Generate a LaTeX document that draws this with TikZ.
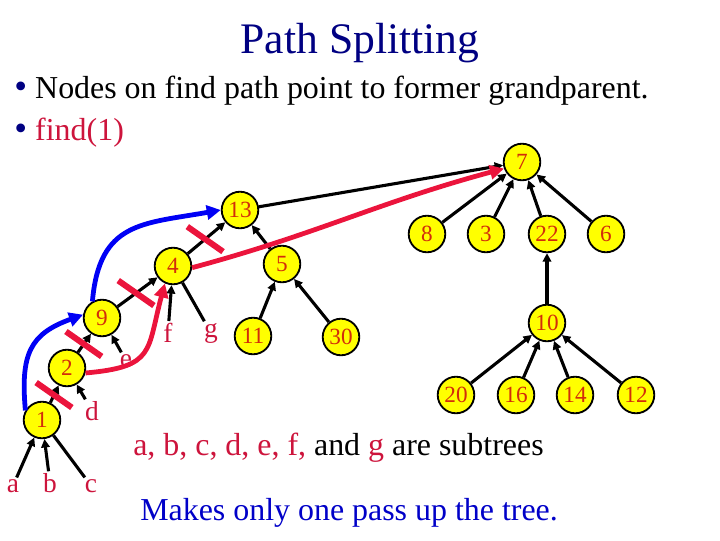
\documentclass[tikz,border=0pt]{standalone}
\usepackage{fontspec}
\setmainfont{Liberation Serif}
\usepackage{tikz}
\usetikzlibrary{arrows.meta,calc}
\usepackage{xcolor}
\definecolor{ndyellow}{RGB}{255,255,0}
\definecolor{numred}{RGB}{210,45,10}
\definecolor{subred}{RGB}{205,20,60}
\definecolor{pathred}{RGB}{235,20,60}
\definecolor{pathblue}{RGB}{0,0,245}
\definecolor{ttlnavy}{RGB}{0,0,130}
\definecolor{passblue}{RGB}{0,0,200}
\newcommand{\fsz}[1]{\fontsize{#1}{#1}\selectfont}
\newcommand{\bul}{{\color{ttlnavy}\fsz{26}•}\hspace{5.8pt}}
\tikzset{
  nd/.style={circle,draw=black,line width=1.3pt,fill=ndyellow,text=numred,
             minimum size=26pt,inner sep=0pt,font=\fsz{16.5}},
  sub/.style={anchor=base,text=subred,font=\fsz{19.5},inner sep=1pt},
  ge/.style={-{Triangle[length=6pt,width=6pt]},line width=2.2pt},
  gen/.style={line width=2.2pt},
  cut/.style={rectangle,fill=pathred,minimum width=31pt,minimum height=4.3pt,
              inner sep=0pt,rotate=-35},
  bpath/.style={-{Triangle[length=10pt,width=10pt]},line width=3.4pt,pathblue},
  rpath/.style={-{Triangle[length=10pt,width=10pt]},line width=3.4pt,pathred},
  txt/.style={anchor=base west,inner sep=0pt,font=\fsz{22.7}},
}

\begin{document}
\begin{tikzpicture}[x=0.025cm,y=-0.025cm]
    \useasboundingbox (0,0) rectangle (720,540);
    % heading and bullets
    \node[anchor=base,font=\fsz{31},text=ttlnavy] (title) at (360,53) {Path Splitting};
    \node[txt] (line1) at (14,98) {\bul Nodes on find path point to former grandparent.};
    \node[txt] (line2) at (14,140) {\bul\textcolor{subred}{find(1)}};
    % the tree
    \node[nd] (n7)  at (522,162) {7};
    \node[nd] (n13) at (240,210) {13};
    \node[nd] (n8)  at (427,234) {8};
    \node[nd] (n3)  at (486,234) {3};
    \node[nd] (n22) at (547,234) {22};
    \node[nd] (n6)  at (606,234) {6};
    \node[nd] (n4)  at (173,266) {4};
    \node[nd] (n5)  at (282,264) {5};
    \node[nd] (n9)  at (102,318) {9};
    \node[nd] (n11) at (253,336) {11};
    \node[nd] (n30) at (341,337) {30};
    \node[nd] (n10) at (547,323) {10};
    \node[nd] (n2)  at (67,368)  {2};
    \node[nd] (n20) at (456,395) {20};
    \node[nd] (n16) at (516,395) {16};
    \node[nd] (n14) at (575,395) {14};
    \node[nd] (n12) at (636,395) {12};
    \node[nd] (n1)  at (42,420)  {1};
    % subtrees
    \node[sub] (sa) at (13,492)  {a};
    \node[sub] (sb) at (50,492)  {b};
    \node[sub] (sc) at (91,492)  {c};
    \node[sub] (sd) at (92,420)  {d};
    \node[sub] (se) at (126,367) {e};
    \node[sub] (sf) at (168,342) {f};
    \node[sub] (sg) at (211,337) {g};
    % child to parent
    \draw[ge] (sa) -- (n1);
    \draw[ge] (sb) -- (n1);
    \draw[gen] (sc) -- (n1);
    \draw[ge] (sd) -- (n2);
    \draw[ge] (se) -- (n9);
    \draw[ge] (sf) -- (n4);
    \draw[gen] (sg) -- (n4);
    \draw[ge] (n1) -- (n2);
    \draw[ge] (n2) -- (n9);
    \draw[ge] (n9) -- (n4);
    \draw[ge] (n4) -- (n13);
    \draw[ge] (n11) -- (n5);
    \draw[ge] (n30) -- (n5);
    \draw[ge] (n5) -- (n13);
    \draw[ge] (n13) -- (n7);
    \draw[ge] (n8) -- (n7);
    \draw[ge] (n3) -- (n7);
    \draw[ge] (n22) -- (n7);
    \draw[ge] (n6) -- (n7);
    \draw[ge] (n10) -- (n22);
    \draw[ge] (n20) -- (n10);
    \draw[ge] (n16) -- (n10);
    \draw[ge] (n14) -- (n10);
    \draw[ge] (n12) -- (n10);
    % old links on the find path
    \foreach \u/\v in {n1/n2,n2/n9,n9/n4,n4/n13}
      \node[cut] at ($(\u)!.48!(\v)$) {};
    % new links to grandparents
    \draw[bpath] (n1.150) to[out=95,in=200,looseness=1.3] (n9.170);
    \draw[bpath] (n9.120) to[out=85,in=190,looseness=1.3] (n13.180);
    \draw[rpath] (n2.-15) to[out=5,in=255,looseness=1.5] (n4.245);
    \draw[rpath] (n4.-5) to[out=15,in=195] (n7.200);
    % notes
    \node[txt,text=subred] (subs) at (133,455)
      {a, b, c, d, e, f, \textcolor{black}{and} g \textcolor{black}{are subtrees}};
    \node[txt,text=passblue] (pass) at (140,520) {Makes only one pass up the tree.};
  \end{tikzpicture}
\end{document}
